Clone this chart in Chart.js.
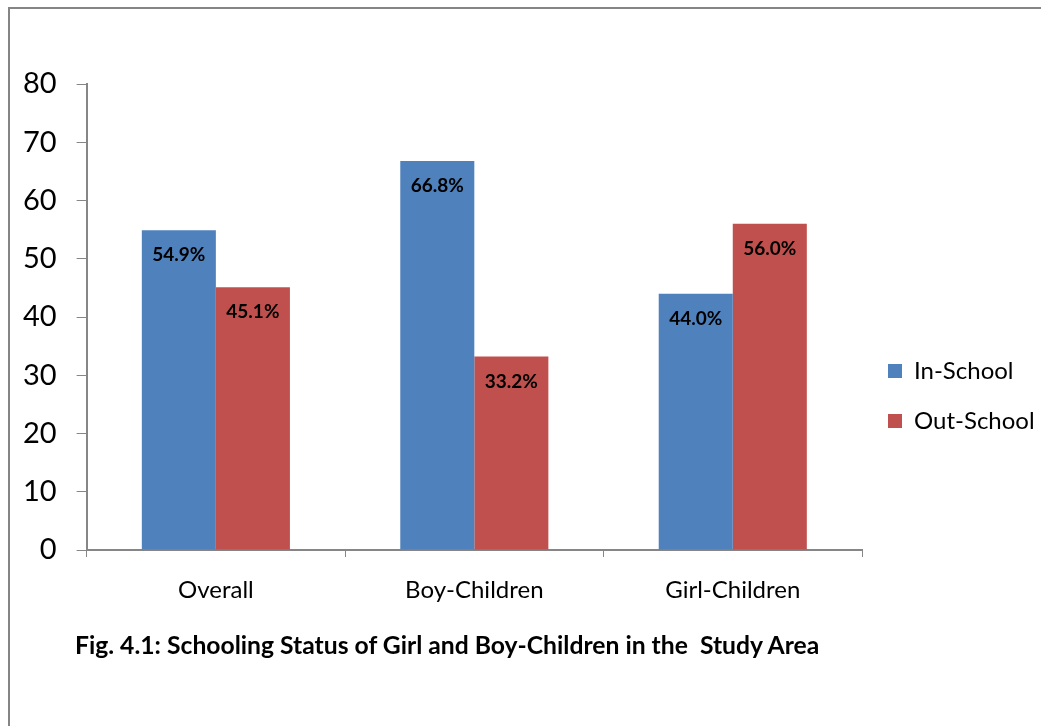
<!DOCTYPE html>
<html>
<head>
<meta charset="utf-8">
<title>Schooling Status of Girl and Boy-Children</title>
<script src="https://cdn.jsdelivr.net/npm/chart.js@4.4.1/dist/chart.umd.min.js"></script>
<style>
    html, body {
        margin: 0;
        padding: 0;
        background: #fff;
        overflow: hidden;
    }
    #frame {
        position: absolute;
        left: 8px;
        top: 7px;
        width: 1100px;
        height: 800px;
        border-left: 2px solid #858585;
        border-top: 2px solid #858585;
    }
    #chartWrap {
        position: absolute;
        left: 0;
        top: 0;
        width: 1041px;
        height: 726px;
    }
    #caption {
        position: absolute;
        left: 75px;
        top: 630px;
        font-family: Lato, "Open Sans", sans-serif;
        font-weight: bold;
        font-size: 24.7px;
        color: #000;
        white-space: pre;
    }
</style>
</head>
<body>
<div id="frame"></div>
<div id="chartWrap"><canvas id="schoolingChart"></canvas></div>
<div id="caption">Fig. 4.1: Schooling Status of Girl and Boy-Children in the  Study Area</div>

<script>
// Schooling status by group (percent of children)
const categories = ['Overall', 'Boy-Children', 'Girl-Children'];
const inSchool = [54.9, 66.8, 44.0];
const outSchool = [45.1, 33.2, 56.0];
const yTicks = [0, 10, 20, 30, 40, 50, 60, 70, 80];

const COLORS = {
    inSchool: '#4F81BD',
    outSchool: '#C0504D',
    axis: '#868686'
};

const FONT = 'Lato, "Open Sans", sans-serif';

// Writes the percentage just inside the top of each bar
const barValueLabels = {
    id: 'barValueLabels',
    afterDatasetsDraw(chart) {
        const ctx = chart.ctx;
        ctx.save();
        ctx.font = 'bold 19px ' + FONT;
        ctx.fillStyle = '#000';
        ctx.textAlign = 'center';
        ctx.textBaseline = 'middle';
        chart.data.datasets.forEach((ds, i) => {
            chart.getDatasetMeta(i).data.forEach((bar, j) => {
                ctx.fillText(ds.data[j].toFixed(1) + '%', bar.x, bar.y + 25);
            });
        });
        ctx.restore();
    }
};

function createSchoolingChart(canvasId) {
    const ctx = document.getElementById(canvasId);
    if (!ctx) {
        console.error(`Canvas element ${canvasId} not found`);
        return null;
    }

    return new Chart(ctx, {
        type: 'bar',
        data: {
            labels: categories,
            datasets: [{
                label: 'In-School',
                data: inSchool,
                backgroundColor: COLORS.inSchool,
                borderWidth: 0
            }, {
                label: 'Out-School',
                data: outSchool,
                backgroundColor: COLORS.outSchool,
                borderWidth: 0
            }]
        },
        options: {
            responsive: true,
            maintainAspectRatio: false,
            animation: false,
            categoryPercentage: 0.573,
            barPercentage: 1,
            layout: {
                padding: { left: 3, right: 0, top: 84, bottom: 18 }
            },
            plugins: {
                legend: {
                    display: true,
                    position: 'right',
                    maxWidth: 179,
                    labels: {
                        boxWidth: 14,
                        boxHeight: 14,
                        padding: 26,
                        color: '#000',
                        font: { family: FONT, size: 24 }
                    }
                },
                tooltip: { enabled: false }
            },
            scales: {
                x: {
                    grid: {
                        display: true,
                        drawOnChartArea: false,
                        tickLength: 7,
                        color: COLORS.axis
                    },
                    border: { color: COLORS.axis, width: 2 },
                    ticks: {
                        color: '#000',
                        padding: 19,
                        font: { family: FONT, size: 24 }
                    },
                    afterFit(scale) {
                        scale.height = 158;
                    }
                },
                y: {
                    min: 0,
                    max: 80,
                    afterBuildTicks(scale) {
                        scale.ticks = yTicks.map(v => ({ value: v }));
                    },
                    grid: {
                        display: true,
                        drawOnChartArea: false,
                        tickLength: 10,
                        color: COLORS.axis
                    },
                    border: { color: COLORS.axis, width: 2 },
                    ticks: {
                        color: '#000',
                        padding: 20,
                        font: { family: FONT, size: 29 }
                    }
                }
            }
        },
        plugins: [barValueLabels]
    });
}

document.addEventListener('DOMContentLoaded', () => createSchoolingChart('schoolingChart'));
</script>
</body>
</html>
